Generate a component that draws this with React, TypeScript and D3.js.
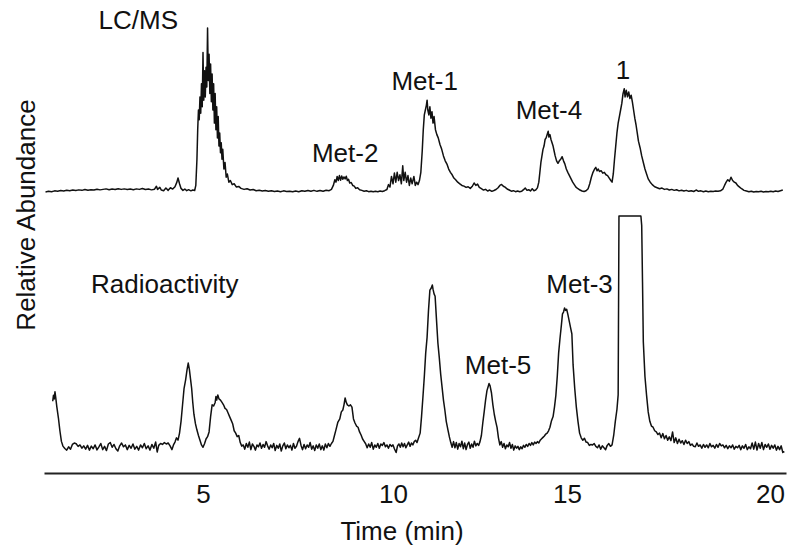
import { useRef, useEffect } from 'react'
import * as d3 from 'd3'

const W = 798
const H = 546

// time ticks (min)
const tickValues = [5, 10, 15, 20]

// LC/MS trace: [time (min), relative abundance]
const lcmsTrace: [number, number][] = [
  [0.84, 0.0], [0.92, 0.4], [1.0, 0.2], [1.08, 0.7], [1.16, 0.5], [1.24, 0.9], [1.32, 0.6], [1.4, 1.1],
  [1.48, 0.8], [1.56, 1.2], [1.64, 0.9], [1.72, 1.3], [1.8, 1.0], [1.88, 1.5], [1.96, 1.1], [2.04, 1.4],
  [2.12, 1.2], [2.2, 1.7], [2.28, 1.3], [2.36, 1.6], [2.44, 1.9], [2.52, 1.4], [2.6, 1.8], [2.68, 1.5],
  [2.76, 2.0], [2.84, 1.6], [2.92, 1.9], [3.0, 1.5], [3.08, 1.8], [3.16, 1.4], [3.24, 1.9], [3.32, 1.6],
  [3.4, 2.1], [3.48, 1.5], [3.56, 1.8], [3.64, 1.3], [3.72, 1.7], [3.77, 3.5], [3.8, 1.6], [3.86, 2.8],
  [3.9, 1.2], [3.96, 0.8], [4.02, 2.4], [4.08, 1.0], [4.14, 2.6], [4.2, 1.8], [4.26, 3.2], [4.31, 6.0],
  [4.34, 8.5], [4.38, 5.0], [4.42, 2.2], [4.47, 1.0], [4.52, 1.8], [4.57, 0.8], [4.62, 1.4], [4.68, 0.7],
  [4.73, 1.2], [4.78, 0.9], [4.81, 4.0], [4.84, 20], [4.86, 38], [4.88, 50], [4.9, 44], [4.92, 58],
  [4.94, 48], [4.96, 66], [4.98, 52], [5.0, 85], [5.02, 56], [5.04, 74], [5.06, 58], [5.08, 76],
  [5.1, 64], [5.12, 100], [5.14, 68], [5.16, 84], [5.18, 60], [5.2, 78], [5.22, 55], [5.24, 72],
  [5.26, 50], [5.28, 66], [5.3, 42], [5.32, 60], [5.34, 38], [5.36, 52], [5.38, 33], [5.4, 46],
  [5.42, 28], [5.44, 36], [5.46, 24], [5.48, 30], [5.5, 20], [5.52, 26], [5.55, 14], [5.58, 18],
  [5.61, 9], [5.64, 11], [5.68, 6], [5.72, 7], [5.77, 4.5], [5.82, 5], [5.88, 3], [5.94, 3.4],
  [6.0, 2.2], [6.08, 1.6], [6.16, 2.0], [6.24, 1.2], [6.32, 1.5], [6.4, 0.8], [6.48, 1.1], [6.56, 0.6],
  [6.64, 0.9], [6.72, 0.4], [6.8, 0.8], [6.88, 0.3], [6.96, 0.6], [7.04, 0.2], [7.12, 0.7], [7.2, 0.3],
  [7.28, 0.5], [7.36, 0.1], [7.44, 0.6], [7.52, 0.2], [7.6, 0.8], [7.68, 0.4], [7.76, 0.9], [7.84, 0.5],
  [7.92, 1.0], [8.0, 0.4], [8.08, 0.9], [8.16, 0.5], [8.24, 1.1], [8.32, 0.8], [8.38, 1.6], [8.43, 4.0],
  [8.47, 7.5], [8.5, 6.0], [8.53, 9.5], [8.56, 7.0], [8.59, 10.0], [8.62, 7.2], [8.65, 9.8], [8.68, 7.8],
  [8.71, 9.2], [8.74, 8.0], [8.77, 9.6], [8.8, 7.0], [8.83, 7.8], [8.86, 5.5], [8.9, 5.8], [8.94, 4.0],
  [8.98, 3.6], [9.02, 2.2], [9.07, 2.6], [9.12, 1.4], [9.18, 1.0], [9.24, 0.5], [9.3, 0.8], [9.36, 0.2],
  [9.42, 0.5], [9.48, 0.1], [9.54, 0.4], [9.6, 0.2], [9.66, 0.6], [9.72, 0.3], [9.78, 0.8], [9.84, 1.5],
  [9.88, 4.5], [9.92, 3.0], [9.96, 9.5], [10.0, 5.0], [10.04, 11.6], [10.08, 6.0], [10.12, 12.0], [10.16, 7.0],
  [10.2, 10.5], [10.24, 5.0], [10.28, 16.0], [10.31, 7.0], [10.35, 12.0], [10.39, 6.0], [10.43, 10.0], [10.47, 4.0],
  [10.51, 8.5], [10.55, 5.0], [10.6, 9.5], [10.64, 4.0], [10.68, 6.0], [10.72, 4.5], [10.76, 7.0], [10.8, 12.0],
  [10.84, 25], [10.87, 38], [10.9, 47], [10.93, 50], [10.96, 53], [10.98, 56], [11.0, 50], [11.03, 47],
  [11.06, 52], [11.09, 45], [11.12, 49], [11.15, 42], [11.18, 46], [11.22, 38], [11.26, 35], [11.3, 33],
  [11.35, 29], [11.4, 26], [11.45, 22], [11.5, 19], [11.55, 17], [11.6, 14], [11.65, 12], [11.7, 10.5],
  [11.75, 8.5], [11.8, 7.5], [11.86, 6.0], [11.92, 5.0], [11.98, 4.0], [12.04, 3.6], [12.1, 2.8], [12.16, 3.2],
  [12.22, 2.2], [12.28, 3.5], [12.33, 5.5], [12.38, 4.0], [12.43, 4.8], [12.48, 2.8], [12.54, 2.0], [12.6, 1.2],
  [12.66, 1.6], [12.72, 0.6], [12.78, 1.2], [12.84, 0.4], [12.9, 0.9], [12.96, 1.5], [13.02, 2.6], [13.07, 4.0],
  [13.12, 4.6], [13.17, 3.5], [13.22, 3.0], [13.28, 1.8], [13.34, 1.2], [13.4, 0.5], [13.46, 0.8], [13.52, 0.2],
  [13.58, 0.6], [13.64, 0.2], [13.7, 0.5], [13.76, 1.6], [13.8, 2.4], [13.85, 1.0], [13.9, 1.4], [13.95, 0.6],
  [14.0, 2.0], [14.05, 0.8], [14.1, 1.2], [14.15, 2.5], [14.19, 6.0], [14.22, 12.0], [14.25, 18.0], [14.28, 22.0],
  [14.31, 26.0], [14.34, 28.0], [14.37, 32.0], [14.4, 33.0], [14.43, 35.0], [14.46, 37.0], [14.48, 33.5], [14.51, 35.0],
  [14.54, 32.0], [14.57, 30.0], [14.6, 28.0], [14.63, 25.0], [14.66, 22.0], [14.7, 19.0], [14.74, 17.5], [14.78, 19.0],
  [14.82, 20.0], [14.86, 21.5], [14.9, 19.0], [14.94, 17.0], [14.98, 14.0], [15.02, 12.0], [15.06, 10.0], [15.1, 8.0],
  [15.14, 6.0], [15.18, 4.5], [15.22, 3.0], [15.27, 2.0], [15.32, 1.2], [15.37, 0.6], [15.42, 0.3], [15.47, 0.8],
  [15.52, 2.0], [15.56, 5.0], [15.6, 9.0], [15.64, 12.0], [15.68, 14.0], [15.71, 15.0], [15.74, 13.0], [15.77, 14.0],
  [15.8, 12.5], [15.84, 13.0], [15.88, 11.5], [15.92, 12.0], [15.96, 10.5], [16.0, 10.0], [16.04, 8.5], [16.08, 7.0],
  [16.11, 6.0], [16.14, 11.0], [16.17, 20.0], [16.2, 28.0], [16.23, 36.0], [16.26, 42.0], [16.29, 46.0], [16.32, 50.0],
  [16.35, 54.0], [16.38, 60.0], [16.41, 63.0], [16.43, 58.0], [16.46, 62.0], [16.49, 58.0], [16.52, 61.0], [16.55, 57.0],
  [16.58, 59.0], [16.61, 55.0], [16.64, 50.0], [16.67, 45.0], [16.7, 41.0], [16.73, 36.0], [16.76, 31.0], [16.8, 27.0],
  [16.84, 22.0], [16.88, 18.0], [16.92, 14.0], [16.96, 11.0], [17.0, 8.0], [17.05, 6.0], [17.1, 4.5], [17.16, 3.2],
  [17.22, 2.6], [17.28, 2.0], [17.34, 2.4], [17.4, 1.6], [17.46, 1.9], [17.52, 1.2], [17.58, 1.6], [17.64, 1.0],
  [17.7, 1.4], [17.76, 0.7], [17.82, 1.1], [17.88, 0.6], [17.94, 1.0], [18.0, 0.4], [18.06, 0.8], [18.12, 0.3],
  [18.18, 1.2], [18.24, 0.4], [18.3, 0.7], [18.36, 0.2], [18.42, 0.6], [18.48, 0.2], [18.54, 0.5], [18.6, 0.3],
  [18.66, 0.6], [18.72, 0.4], [18.78, 0.7], [18.84, 1.8], [18.88, 4.0], [18.92, 6.0], [18.96, 7.5], [19.0, 6.5],
  [19.04, 9.0], [19.08, 7.0], [19.12, 6.0], [19.16, 5.5], [19.2, 4.0], [19.25, 3.0], [19.3, 2.0], [19.36, 1.0],
  [19.42, 0.6], [19.48, 0.2], [19.54, 0.5], [19.6, 0.0], [19.66, 0.3], [19.72, 0.1], [19.78, 0.4], [19.84, 0.0],
  [19.9, 0.3], [19.96, 0.1], [20.02, 0.5], [20.08, 0.2], [20.14, 0.6], [20.2, 0.3], [20.26, 0.8], [20.32, 1.2],
]

// radioactivity trace: [time (min), relative signal], top peak is clipped at 100
const radioTrace: [number, number][] = [
  [1.03, 21.5], [1.05, 24.0], [1.07, 22.5], [1.09, 25.5], [1.11, 23.0], [1.14, 19.0], [1.18, 14.5], [1.22, 9.0],
  [1.26, 4.5], [1.3, 2.5], [1.35, 1.5], [1.4, 0.8], [1.45, 2.2], [1.5, 1.2], [1.55, 3.2], [1.6, 3.8],
  [1.65, 3.5], [1.7, 2.4], [1.75, 3.0], [1.8, 1.6], [1.85, 2.6], [1.9, 1.2], [1.95, 2.8], [2.0, 0.8],
  [2.05, 2.5], [2.1, 1.4], [2.15, 3.0], [2.2, 0.9], [2.25, 2.2], [2.3, 3.6], [2.35, 1.0], [2.4, 2.4],
  [2.45, 0.6], [2.5, 3.4], [2.55, 4.0], [2.6, 2.0], [2.65, 3.2], [2.7, 1.4], [2.75, 0.4], [2.8, 2.6],
  [2.85, 3.8], [2.9, 2.2], [2.95, 3.0], [3.0, 1.0], [3.05, 2.8], [3.1, 1.6], [3.15, 3.4], [3.2, 1.2],
  [3.25, 2.4], [3.3, 0.8], [3.35, 3.0], [3.4, 1.8], [3.45, 3.6], [3.5, 1.4], [3.55, 2.6], [3.6, 0.8],
  [3.65, 3.2], [3.7, 1.6], [3.75, 4.2], [3.79, 0.0], [3.83, 2.8], [3.88, 3.6], [3.93, 3.2], [3.98, 4.0],
  [4.03, 3.4], [4.08, 3.8], [4.13, 2.6], [4.18, 1.0], [4.22, 3.0], [4.26, 4.2], [4.3, 6.0], [4.34, 5.0],
  [4.38, 8.0], [4.42, 13.0], [4.46, 20.0], [4.5, 27.0], [4.54, 30.5], [4.58, 35.0], [4.61, 37.7], [4.64, 35.0],
  [4.67, 31.0], [4.7, 27.0], [4.73, 21.0], [4.76, 16.0], [4.8, 12.0], [4.84, 9.3], [4.88, 7.0], [4.92, 5.0],
  [4.96, 3.0], [5.0, 2.0], [5.04, 3.5], [5.08, 5.5], [5.12, 6.5], [5.16, 8.5], [5.2, 15.0], [5.24, 20.0],
  [5.28, 19.5], [5.32, 21.0], [5.34, 23.5], [5.36, 22.0], [5.39, 24.2], [5.42, 22.5], [5.46, 22.0], [5.5, 21.0],
  [5.54, 20.0], [5.58, 18.5], [5.62, 18.0], [5.66, 16.5], [5.7, 15.0], [5.74, 13.5], [5.78, 12.0], [5.82, 9.0],
  [5.86, 8.0], [5.9, 6.5], [5.94, 7.0], [5.98, 4.0], [6.02, 2.5], [6.06, 3.0], [6.1, 1.2], [6.14, 3.6],
  [6.18, 2.0], [6.22, 4.2], [6.26, 1.0], [6.3, 3.4], [6.34, 2.4], [6.38, 0.8], [6.42, 3.0], [6.46, 2.2],
  [6.5, 3.8], [6.54, 1.6], [6.58, 3.2], [6.62, 2.0], [6.66, 4.4], [6.7, 2.6], [6.74, 1.2], [6.78, 3.0],
  [6.82, 1.8], [6.86, 3.6], [6.9, 0.6], [6.94, 2.8], [6.98, 1.6], [7.02, 3.4], [7.06, 0.4], [7.1, 2.6],
  [7.14, 3.8], [7.18, 1.4], [7.22, 3.0], [7.26, 1.8], [7.3, 2.8], [7.34, 0.8], [7.38, 3.6], [7.42, 1.6],
  [7.46, 2.4], [7.5, 4.4], [7.54, 5.8], [7.58, 2.8], [7.62, 1.0], [7.66, 3.2], [7.7, 1.4], [7.74, 3.0],
  [7.78, 2.0], [7.82, 4.0], [7.86, 1.2], [7.9, 2.6], [7.94, 0.6], [7.98, 3.0], [8.02, 1.6], [8.06, 3.4],
  [8.1, 1.0], [8.14, 2.6], [8.18, 0.8], [8.22, 3.4], [8.26, 1.8], [8.3, 3.6], [8.34, 2.4], [8.38, 3.6],
  [8.42, 4.5], [8.46, 7.0], [8.5, 9.5], [8.55, 12.7], [8.6, 14.0], [8.64, 17.0], [8.68, 17.8], [8.71, 20.0],
  [8.74, 22.9], [8.77, 21.0], [8.8, 20.0], [8.84, 19.5], [8.88, 20.0], [8.92, 19.0], [8.96, 14.0], [9.0, 12.3],
  [9.04, 11.0], [9.08, 10.5], [9.12, 8.5], [9.16, 7.2], [9.2, 5.5], [9.24, 4.5], [9.28, 3.5], [9.32, 1.8],
  [9.36, 3.4], [9.4, 2.0], [9.44, 4.0], [9.48, 1.2], [9.52, 3.0], [9.56, 2.0], [9.6, 3.6], [9.64, 1.6],
  [9.68, 3.4], [9.72, 2.8], [9.76, 4.0], [9.8, 2.2], [9.84, 3.0], [9.88, 1.6], [9.92, 3.2], [9.96, 2.4],
  [10.0, 3.0], [10.04, 1.4], [10.09, -0.2], [10.13, 2.6], [10.17, 3.4], [10.21, 2.0], [10.25, 3.8], [10.29, 2.2],
  [10.33, 3.6], [10.37, 1.8], [10.41, 3.0], [10.45, 4.2], [10.49, 2.4], [10.53, 3.8], [10.57, 3.0], [10.61, 4.4],
  [10.65, 5.0], [10.69, 4.0], [10.73, 5.8], [10.78, 8.0], [10.82, 15.0], [10.86, 23.3], [10.9, 32.0], [10.94, 42.0],
  [10.98, 48.7], [11.02, 60.0], [11.06, 68.6], [11.1, 69.5], [11.13, 70.8], [11.15, 69.0], [11.18, 67.0], [11.21, 66.0],
  [11.25, 56.0], [11.29, 46.2], [11.33, 40.0], [11.37, 33.0], [11.41, 27.5], [11.45, 22.0], [11.49, 17.8], [11.53, 13.0],
  [11.58, 9.3], [11.62, 6.4], [11.66, 4.0], [11.7, 2.0], [11.74, 4.4], [11.78, 1.8], [11.82, 4.0], [11.86, 1.2],
  [11.9, 3.6], [11.94, 2.2], [11.98, 4.6], [12.02, 1.4], [12.06, 3.8], [12.1, 1.0], [12.14, 3.2], [12.18, 4.2],
  [12.22, 1.6], [12.26, 3.4], [12.3, 2.0], [12.34, 4.6], [12.38, 2.6], [12.42, 3.6], [12.46, 2.8], [12.5, 4.4],
  [12.54, 7.0], [12.58, 12.3], [12.62, 17.0], [12.66, 22.0], [12.7, 26.0], [12.74, 28.0], [12.76, 29.0], [12.79, 28.0],
  [12.83, 25.0], [12.87, 20.0], [12.91, 16.0], [12.95, 13.0], [12.99, 10.4], [13.03, 6.0], [13.07, 3.0], [13.11, 4.4],
  [13.15, 2.0], [13.19, 3.6], [13.23, 1.4], [13.27, 3.0], [13.31, 2.2], [13.35, 4.0], [13.39, 1.6], [13.43, 3.2],
  [13.47, 0.8], [13.51, 2.6], [13.55, 1.6], [13.59, 2.4], [13.63, 1.0], [13.67, 2.2], [13.71, 1.4], [13.75, 2.8],
  [13.79, 2.0], [13.83, 3.2], [13.87, 2.4], [13.91, 3.6], [13.95, 2.8], [13.99, 4.0], [14.03, 3.0], [14.07, 4.2],
  [14.11, 3.6], [14.15, 4.4], [14.19, 3.8], [14.23, 5.0], [14.27, 5.6], [14.31, 6.2], [14.35, 6.8], [14.39, 7.6],
  [14.43, 8.0], [14.47, 9.0], [14.51, 10.5], [14.55, 13.0], [14.6, 15.0], [14.64, 19.0], [14.68, 24.0], [14.72, 32.0],
  [14.76, 42.0], [14.8, 48.3], [14.84, 54.0], [14.87, 58.5], [14.9, 59.3], [14.93, 61.0], [14.96, 60.0], [14.99, 60.5],
  [15.02, 58.4], [15.06, 55.0], [15.09, 52.5], [15.12, 50.0], [15.15, 36.9], [15.19, 27.0], [15.23, 19.0], [15.27, 13.0],
  [15.31, 8.0], [15.35, 6.0], [15.39, 5.0], [15.43, 5.8], [15.47, 4.2], [15.51, 4.0], [15.55, 2.8], [15.59, 3.2],
  [15.63, 3.0], [15.67, 3.6], [15.71, 2.4], [15.75, 1.8], [15.79, 3.0], [15.83, 1.2], [15.87, 2.6], [15.91, 1.8],
  [15.95, 1.0], [15.99, 2.8], [16.03, 3.6], [16.07, 2.4], [16.11, 3.0], [16.15, 7.0], [16.19, 13.0], [16.23, 18.0],
  [16.26, 24.2], [16.28, 100], [16.82, 100], [16.84, 96], [16.86, 72], [16.88, 46.6], [16.92, 32.0], [16.96, 24.0],
  [17.0, 17.0], [17.04, 13.0], [17.08, 11.0], [17.12, 10.5], [17.16, 9.0], [17.2, 8.5], [17.24, 7.4], [17.28, 8.0],
  [17.32, 6.0], [17.36, 7.8], [17.4, 5.6], [17.44, 7.0], [17.48, 5.0], [17.52, 6.4], [17.56, 4.8], [17.6, 8.5],
  [17.64, 4.0], [17.68, 6.0], [17.72, 3.6], [17.76, 5.4], [17.8, 3.8], [17.84, 4.8], [17.88, 3.2], [17.92, 5.0],
  [17.96, 3.6], [18.0, 4.4], [18.04, 2.8], [18.08, 3.4], [18.12, 2.4], [18.16, 2.2], [18.2, 3.8], [18.24, 2.4],
  [18.28, 3.0], [18.32, 1.6], [18.36, 3.2], [18.4, 2.0], [18.44, 3.0], [18.48, 1.8], [18.52, 3.6], [18.56, 2.2],
  [18.6, 2.8], [18.64, 1.6], [18.68, 3.2], [18.72, 2.0], [18.76, 3.6], [18.8, 2.6], [18.84, 3.0], [18.88, 1.8],
  [18.92, 2.8], [18.96, 1.4], [19.0, 2.6], [19.04, 1.8], [19.08, 3.0], [19.12, 1.2], [19.16, 2.4], [19.2, 1.8],
  [19.24, 2.8], [19.28, 1.0], [19.32, 2.6], [19.36, 1.6], [19.4, 3.2], [19.44, 1.0], [19.48, 2.2], [19.52, 1.4],
  [19.56, 3.8], [19.6, 1.2], [19.64, 4.2], [19.68, 0.8], [19.72, 3.6], [19.76, 1.6], [19.8, 4.0], [19.84, 1.0],
  [19.88, 3.2], [19.92, 2.0], [19.96, 3.4], [20.0, 1.2], [20.04, 2.8], [20.08, 1.6], [20.12, 3.0], [20.16, 0.8],
  [20.2, 2.4], [20.24, 1.0], [20.28, 2.6], [20.32, -0.2], [20.36, 0.2],
]

// annotations, anchored in data coordinates (time, value) of their trace
const lcmsLabels = ['LC/MS', 'Met-2', 'Met-1', 'Met-4', '1']
const lcmsLabelAt: [number, number][] = [[3.29, 99.4], [8.74, 18.3], [10.91, 62.2], [14.48, 44.5], [16.38, 68.9]]
const radioLabels = ['Radioactivity', 'Met-5', 'Met-3']
const radioLabelAt: [number, number][] = [[3.99, 67.4], [13.02, 33], [15.31, 67.4]]

export default function App() {
  const svgRef = useRef<SVGSVGElement>(null)

  useEffect(() => {
    const svg = svgRef.current
    if (!svg) return
    const font = "'Liberation Sans', Arial, Helvetica, sans-serif"
    const ink = '#111'

    const sel = d3.select(svg)
    sel.selectAll('*').remove()

    // the time axis was laid out by hand in the original, so the scale is piecewise
    const x = d3.scaleLinear()
      .domain([0.8, 5, 10, 15, 20, 20.4])
      .range([44, 203, 393, 567, 770, 786])
    const yLc = d3.scaleLinear().domain([0, 100]).range([192, 28])
    const yRad = d3.scaleLinear().domain([0, 100]).range([452, 216])

    const lcLine = d3.line<[number, number]>().x((d) => x(d[0])).y((d) => yLc(d[1]))
    const radLine = d3.line<[number, number]>().x((d) => x(d[0])).y((d) => yRad(d[1]))

    sel.append('path')
      .attr('d', lcLine(lcmsTrace))
      .attr('fill', 'none').attr('stroke', ink).attr('stroke-width', 1.5)
      .attr('stroke-linejoin', 'round')
    sel.append('path')
      .attr('d', radLine(radioTrace))
      .attr('fill', 'none').attr('stroke', ink).attr('stroke-width', 1.5)
      .attr('stroke-linejoin', 'round')

    const axis = sel.append('g')
      .attr('transform', 'translate(0,473)')
      .call(d3.axisBottom(x).tickValues(tickValues).tickSize(0).tickSizeOuter(0).tickPadding(12).tickFormat(d3.format('d')))
    axis.attr('font-family', font).attr('font-size', 26)
    axis.select('.domain').attr('stroke', '#222').attr('stroke-width', 2)
    axis.selectAll('text').attr('fill', ink)

    sel.append('text')
      .attr('x', 402).attr('y', 540)
      .attr('text-anchor', 'middle')
      .attr('font-family', font).attr('font-size', 26).attr('fill', ink)
      .text('Time (min)')

    sel.append('text')
      .attr('transform', 'translate(35,215) rotate(-90)')
      .attr('text-anchor', 'middle')
      .attr('font-family', font).attr('font-size', 26).attr('fill', ink)
      .text('Relative Abundance')

    lcmsLabels.forEach((t, i) => {
      sel.append('text')
        .attr('x', x(lcmsLabelAt[i][0])).attr('y', yLc(lcmsLabelAt[i][1]))
        .attr('text-anchor', 'middle')
        .attr('font-family', font).attr('font-size', 26).attr('fill', ink)
        .text(t)
    })
    radioLabels.forEach((t, i) => {
      sel.append('text')
        .attr('x', x(radioLabelAt[i][0])).attr('y', yRad(radioLabelAt[i][1]))
        .attr('text-anchor', 'middle')
        .attr('font-family', font).attr('font-size', 26).attr('fill', ink)
        .text(t)
    })
  }, [])

  return (
    <svg
      ref={svgRef}
      width={W}
      height={H}
      style={{ position: 'absolute', left: 0, top: 0, background: '#fff' }}
    />
  )
}
